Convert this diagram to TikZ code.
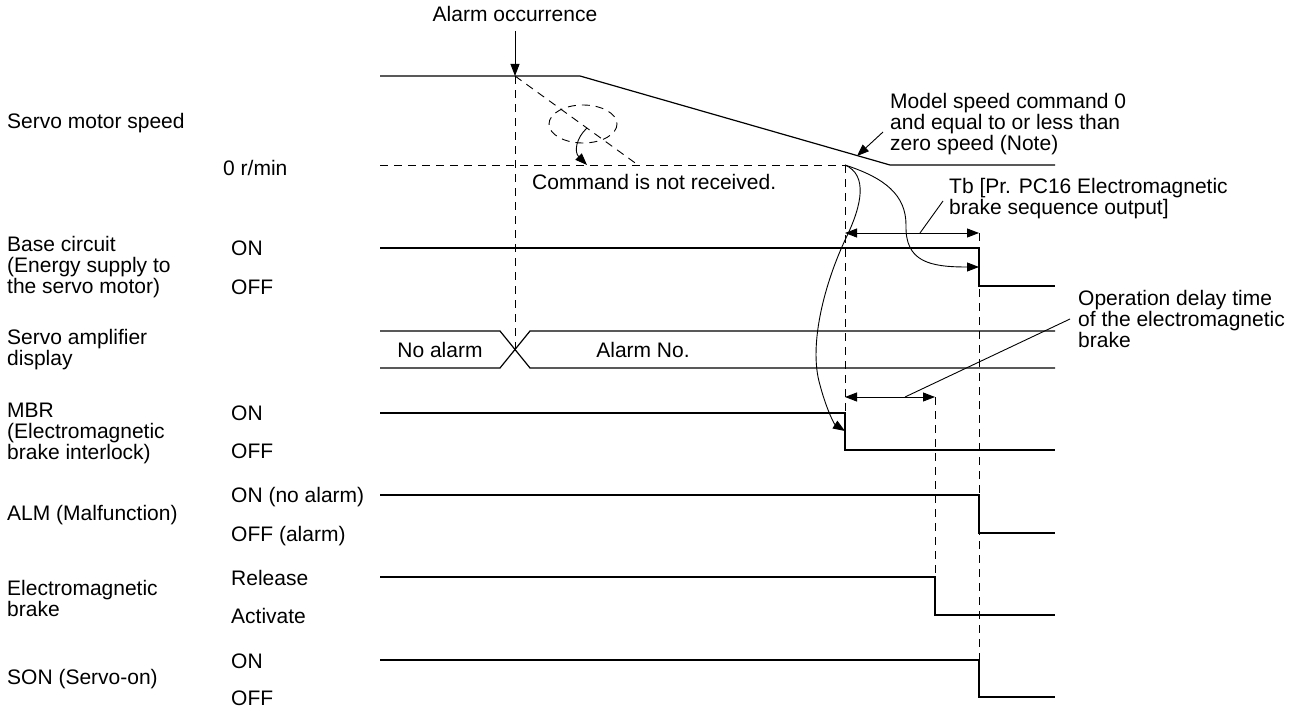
\documentclass[tikz,border=0pt]{standalone}
\usepackage{fontspec}
\setmainfont{Liberation Sans}
\usetikzlibrary{arrows.meta}
\begin{document}
\begin{tikzpicture}[x=1pt,y=-1pt,
  sig/.style={line width=1.2pt},
  dsh/.style={line width=0.9pt,dash pattern=on 8pt off 6pt},
  thin/.style={line width=0.9pt},
  tri/.style={-{Triangle[length=12pt,width=9pt]}},
  dtri/.style={{Triangle[length=12pt,width=9pt]}-{Triangle[length=12pt,width=9pt]}},
  lbl/.style={inner sep=0pt,align=left,font=\fontsize{21}{21}\selectfont},
  wlbl/.style={lbl,anchor=west}]
\useasboundingbox (0,0) rectangle (1301,709);
% ---------- left labels ----------
\node[wlbl] (lspeed) at (7,123) {Servo motor speed};
\node[wlbl] (lbase) at (7,267) {Base circuit\\(Energy supply to\\the servo motor)};
\node[wlbl] (ldisp) at (7,350) {Servo amplifier\\display};
\node[wlbl] (lmbr) at (7,433) {MBR\\(Electromagnetic\\brake interlock)};
\node[wlbl] (lalm) at (7,515) {ALM (Malfunction)};
\node[wlbl] (lbrk) at (7,598) {Electromagnetic\\brake};
\node[wlbl] (lson) at (7,679) {SON (Servo-on)};
% ---------- state labels ----------
\node[wlbl] (zero) at (223,168) {0 r/min};
\node[wlbl] (bon) at (231,248) {ON};
\node[wlbl] (boff) at (231,287) {OFF};
\node[wlbl] (mon) at (231,413) {ON};
\node[wlbl] (moff) at (231,451) {OFF};
\node[wlbl] (aon) at (231,497) {ON (no alarm)};
\node[wlbl] (aoff) at (231,536) {OFF (alarm)};
\node[wlbl] (rel) at (231,578) {Release};
\node[wlbl] (act) at (231,616) {Activate};
\node[wlbl] (son) at (231,661) {ON};
\node[wlbl] (soff) at (231,698) {OFF};
% ---------- coordinates ----------
\coordinate (alm) at (515,76);
\coordinate (zs) at (845,165);
\coordinate (tbe) at (979,233);
\coordinate (ode) at (935,397);
% ---------- dashed guides ----------
\draw[dsh] (380,165) -- (zs);
\draw[dsh] (alm) -- (515,350);
\draw[dsh] (alm) -- (638,165);
\draw[dsh] (583,124) ellipse [x radius=34, y radius=19];
\draw[dsh] (zs) -- (845,413);
\draw[dsh] (ode) -- (935,577);
\draw[dsh] (tbe) -- (979,660);
% ---------- signals ----------
\draw[sig] (380,76) -- (580,76) -- (890,165) -- (1055,165);
\draw[sig] (380,248) -- (979,248) -- (979,286) -- (1055,286);
\draw[sig] (380,331) -- (500,331) -- (530,368) -- (1055,368);
\draw[sig] (380,368) -- (500,368) -- (530,331) -- (1055,331);
\draw[sig] (380,413) -- (845,413) -- (845,450) -- (1055,450);
\draw[sig] (380,495) -- (979,495) -- (979,533) -- (1055,533);
\draw[sig] (380,577) -- (935,577) -- (935,615) -- (1055,615);
\draw[sig] (380,660) -- (979,660) -- (979,697) -- (1055,697);
\node[lbl] (noal) at (440,350) {No alarm};
\node[lbl] (alno) at (643,350) {Alarm No.};
% ---------- annotations ----------
\node[lbl,anchor=south] (almtxt) at (515,22) {Alarm occurrence};
\draw[thin,tri] (515,31) -- (alm);
\node[lbl,anchor=west] (cmd) at (532,182) {Command is not received.};
\draw[thin,tri] (587,128) .. controls (576,138) and (574,152) .. (587,165);
\node[lbl,anchor=west] (model) at (890,124) {Model speed command 0\\and equal to or less than\\zero speed (Note)};
\draw[thin,tri] (883,132) -- (857,156);
\node[lbl,anchor=west] (tbtxt) at (949,199) {Tb [Pr. PC16 Electromagnetic\\brake sequence output]};
\draw[thin,dtri] (zs |- tbe) -- (tbe);
\draw[thin] (920,233) -- (943,201);
\node[lbl,anchor=west] (optxt) at (1078,319) {Operation delay time\\of the electromagnetic\\brake};
\draw[thin,dtri] (zs |- ode) -- (ode);
\draw[thin] (905,397) -- (1070,319);
\draw[thin,tri] (zs) .. controls (868,175) and (862,205) .. (846,238)
   .. controls (825,282) and (808,345) .. (820,385)
   .. controls (826,408) and (834,424) .. (845,431);
\draw[thin,tri] (zs) .. controls (885,178) and (906,195) .. (906,225)
   .. controls (905,262) and (930,267) .. (979,267);
\end{tikzpicture}
\end{document}
